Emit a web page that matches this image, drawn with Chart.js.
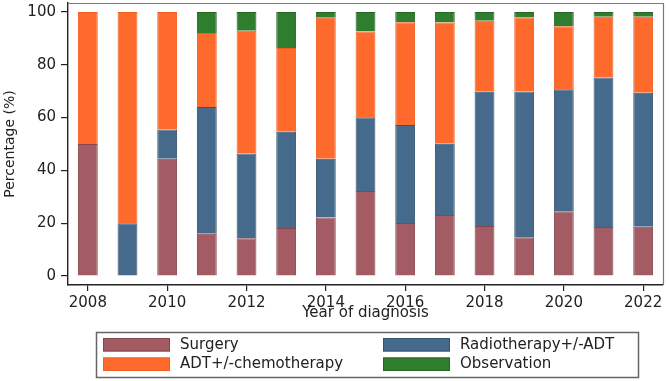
<!DOCTYPE html>
<html>
<head>
<meta charset="utf-8">
<script src="https://cdn.jsdelivr.net/npm/chart.js@4"></script>
<style>
  html, body { margin: 0; padding: 0; background: #ffffff; }
  #wrap { width: 669px; height: 381px; }
</style>
</head>
<body>
<div id="wrap"><canvas id="c" width="669" height="381"></canvas></div>
<script>
// ---- data ----
const years = ["2008","2009","2010","2011","2012","2013","2014","2015","2016","2017","2018","2019","2020","2021","2022"];
const surgery      = [50.0, 0.0, 44.4, 16.0, 14.3, 18.2, 22.2, 32.2, 20.1, 23.1, 18.9, 14.7, 24.5, 18.6, 18.7];
const radiotherapy = [0.0, 20.0, 11.1, 48.0, 32.1, 36.4, 22.2, 27.9, 37.1, 27.0, 50.9, 55.2, 46.2, 56.6, 50.7];
const adtChemo     = [50.0, 80.0, 44.5, 28.0, 46.5, 31.8, 53.4, 32.5, 38.9, 45.9, 26.9, 28.1, 23.9, 23.0, 28.8];
const observation  = [0.0, 0.0, 0.0, 8.0, 7.1, 13.6, 2.2, 7.4, 3.9, 4.0, 3.3, 2.0, 5.4, 1.8, 1.8];
const yTicks = [0, 20, 40, 60, 80, 100];
const seriesNames = ["Surgery", "Radiotherapy+/-ADT", "ADT+/-chemotherapy", "Observation"];
const xTitle = "Year of diagnosis";
const yTitle = "Percentage (%)";

const FONT = "'DejaVu Sans', sans-serif";
const INK = "#222222";

const legendPlugin = {
  id: "stataLegend",
  afterDraw(chart) {
    const ctx = chart.ctx;
    const area = chart.chartArea;
    ctx.save();
    // plot region frame (top/right, gray)
    ctx.strokeStyle = "#7a7a7a";
    ctx.lineWidth = 1.2;
    ctx.beginPath();
    ctx.moveTo(area.left, area.top + 0.5);
    ctx.lineTo(area.right + 0.5, area.top + 0.5);
    ctx.lineTo(area.right + 0.5, area.bottom);
    ctx.stroke();

    // legend box
    const bx = 96.5, by = 332.5, bw = 542, bh = 45;
    ctx.strokeStyle = "#666666";
    ctx.lineWidth = 1.5;
    ctx.strokeRect(bx, by, bw, bh);
    const colX = [103, 383];
    const rowY = [338, 357.5];
    ctx.font = "15px " + FONT;
    ctx.textBaseline = "middle";
    ctx.textAlign = "left";
    chart.data.datasets.forEach((ds, i) => {
      const c = i % 2, r = Math.floor(i / 2);
      const x = colX[c], y = rowY[r];
      ctx.fillStyle = ds.backgroundColor;
      ctx.fillRect(x, y, 67, 13.5);
      ctx.strokeStyle = ds.borderColor;
      ctx.lineWidth = 1;
      ctx.strokeRect(x + 0.5, y + 0.5, 66, 12.5);
      ctx.fillStyle = INK;
      ctx.fillText(ds.label, x + 77, y + 7);
    });
    ctx.restore();
  }
};

new Chart(document.getElementById("c"), {
  type: "bar",
  data: {
    labels: years,
    datasets: [
      { label: seriesNames[0], data: surgery,      backgroundColor: "#a35c64", borderColor: "#87454e", borderWidth: 1 },
      { label: seriesNames[1], data: radiotherapy, backgroundColor: "#466a8b", borderColor: "#35536f", borderWidth: 1 },
      { label: seriesNames[2], data: adtChemo,     backgroundColor: "#fe6a2c", borderColor: "#ef5e22", borderWidth: 1 },
      { label: seriesNames[3], data: observation,  backgroundColor: "#2f7d2f", borderColor: "#246624", borderWidth: 1 }
    ]
  },
  options: {
    responsive: false,
    animation: false,
    devicePixelRatio: 1,
    layout: { padding: { left: 0, top: 3, right: 6, bottom: 59 } },
    datasets: { bar: { categoryPercentage: 1.0, barPercentage: 0.5 } },
    plugins: {
      legend: { display: false },
      tooltip: { enabled: false }
    },
    scales: {
      x: {
        stacked: true,
        offset: true,
        grid: { display: true, drawOnChartArea: false, drawTicks: true, tickLength: 6, color: INK, offset: false, lineWidth: 1.2 },
        border: { display: true, color: INK, width: 1.4 },
        ticks: { autoSkip: false, maxRotation: 0, padding: 3, color: INK, font: { family: FONT, size: 15 } },
        afterBuildTicks(scale) {
          scale.ticks = scale.ticks.filter(t => Number(years[t.value]) % 2 === 0);
        },
        afterFit(scale) {
          scale.height = 37;
          scale.paddingLeft = 0; scale.paddingRight = 0;
        },
        title: { display: true, text: xTitle, color: INK, padding: { top: 0, bottom: 0 }, font: { family: FONT, size: 15 } }
      },
      y: {
        stacked: true,
        min: -3.4,
        max: 103.4,
        grid: { display: true, drawOnChartArea: false, drawTicks: true, tickLength: 7, color: INK, lineWidth: 1.2 },
        border: { display: true, color: INK, width: 1.4 },
        ticks: { padding: 5, color: INK, font: { family: FONT, size: 15 } },
        afterBuildTicks(scale) {
          scale.ticks = yTicks.map(v => ({ value: v }));
        },
        afterFit(scale) {
          scale.width = 68;
          scale.paddingTop = 0; scale.paddingBottom = 0;
        },
        title: { display: true, text: yTitle, color: INK, padding: { top: 2, bottom: 0 }, font: { family: FONT, size: 14 } }
      }
    }
  },
  plugins: [legendPlugin]
});
</script>
</body>
</html>
